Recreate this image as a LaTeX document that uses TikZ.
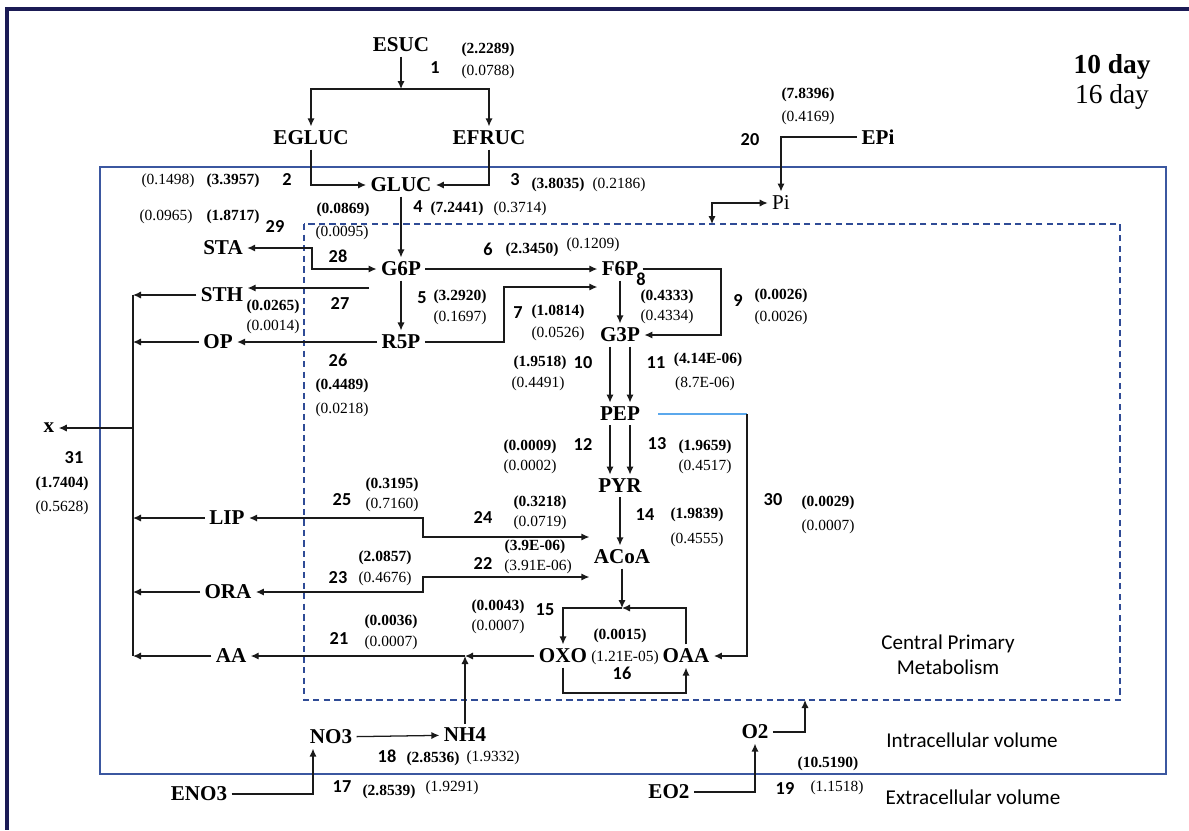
\documentclass[tikz,border=0pt]{standalone}
\usepackage{fontspec}
\setmainfont{Liberation Serif}
\newfontfamily\calfont{Carlito}
\usetikzlibrary{arrows.meta,calc}
\definecolor{navy}{HTML}{1B1B55}
\definecolor{cellblue}{HTML}{3B57A0}
\definecolor{dashblue}{HTML}{2F4B96}
\definecolor{pepblue}{HTML}{5BA8EC}
\definecolor{ink}{HTML}{1A1A1A}
\tikzset{met/.style={font=\fontsize{15}{17}\selectfont\bfseries,inner sep=3pt},
  rnum/.style={font=\calfont\fontsize{13}{15}\selectfont\bfseries,inner sep=0pt},
  vbold/.style={font=\fontsize{11}{13}\selectfont\bfseries,inner sep=0pt},
  vreg/.style={font=\fontsize{11}{13}\selectfont,inner sep=0pt},
  note/.style={font=\calfont\fontsize{15}{18}\selectfont,align=center,inner sep=0pt},
  arrow/.style={-{Latex[length=2mm,width=1.8mm]},line width=0.9pt,draw=ink},
  twoway/.style={{Latex[length=2mm,width=1.8mm]}-{Latex[length=2mm,width=1.8mm]},line width=0.9pt,draw=ink}}

\begin{document}
\begin{tikzpicture}[x=0.025cm,y=-0.025cm]
\useasboundingbox (0,0) rectangle (1189,830);
% frames
\draw[navy,line width=2.2pt] (1189,9) -| (7,830);
\draw[cellblue,line width=1.4pt] (100,167) rectangle (1166,774);
\draw[dashblue,line width=1pt,dash pattern=on 4.5pt off 3pt] (304,224) rectangle (1120,700);
% metabolites
\node[met] (ESUC) at (401,45) {ESUC};
\node[met] (EGLUC) at (311,138) {EGLUC};
\node[met] (EFRUC) at (489,138) {EFRUC};
\node[met] (GLUC) at (401,185) {GLUC};
\node[met] (STA) at (223,248) {STA};
\node[met] (G6P) at (401,269) {G6P};
\node[met] (F6P) at (620,269) {F6P};
\node[met] (STH) at (222,295) {STH};
\node[met] (R5P) at (401,342) {R5P};
\node[met] (G3P) at (620,335) {G3P};
\node[met] (OP) at (218,342) {OP};
\node[met] (PEP) at (620,414) {PEP};
\node[met] (xout) at (49,428) {x};
\node[met] (PYR) at (620,486) {PYR};
\node[met] (LIP) at (227,518) {LIP};
\node[met] (ACoA) at (622,557) {ACoA};
\node[met] (ORA) at (228,592) {ORA};
\node[met] (OXO) at (563,656) {OXO};
\node[met] (OAA) at (686,656) {OAA};
\node[met] (AA) at (231,656) {AA};
\node[met] (NO3) at (331,737) {NO3};
\node[met] (NH4) at (465,735) {NH4};
\node[met] (O2) at (755,732) {O2};
\node[met] (ENO3) at (199,794) {ENO3};
\node[met] (EO2) at (669,792) {EO2};
\node[met] (EPi) at (878,137) {EPi};
\node[met,font=\fontsize{15}{17}\selectfont] (Pi) at (781,203) {Pi};
% junctions
\coordinate (j1) at (401,89);
\coordinate (j28) at (312,269);
\coordinate (a27) at (369,288);
\coordinate (j7) at (504,287);
\coordinate (j9) at (721,335);
\coordinate (jpi) at (712,224);
\coordinate (col) at (133,428);
\coordinate (j24) at (423,537);
\coordinate (j22) at (423,577);
\coordinate (j15) at (622,608);
\coordinate (j16) at (620,693);
\coordinate (j21) at (465,656);
\coordinate (j30) at (747,414);
\coordinate (jo2) at (805,700);
% connectors
\draw[arrow] (ESUC)--(j1); \draw[arrow] (j1)-|(EGLUC); \draw[arrow] (j1)-|(EFRUC);
\draw[arrow] (EGLUC)|-(GLUC); \draw[arrow] (EFRUC)|-(GLUC);
\draw[arrow] (GLUC)--(G6P);
\draw[twoway] (STA)-|(j28)--(G6P);
\draw[arrow] (a27)--(a27-|STH.east);
\draw[arrow] (G6P)--(R5P); \draw[arrow] (G6P)--(F6P);
\draw[arrow] (R5P)-|(j7)--(j7-|F6P.west);
\draw[arrow] (R5P)--(OP);
\draw[arrow] (F6P)--(G3P); \draw[arrow] (F6P)-|(j9)--(G3P);
\draw[arrow] ($(G3P.south)+(-10,0)$)--($(PEP.north)+(-10,0)$);
\draw[arrow] ($(G3P.south)+(10,0)$)--($(PEP.north)+(10,0)$);
\draw[arrow] ($(PEP.south)+(-10,0)$)--($(PYR.north)+(-10,0)$);
\draw[arrow] ($(PEP.south)+(10,0)$)--($(PYR.north)+(10,0)$);
\draw[arrow] (PYR)--(PYR|-ACoA.north);
\draw[arrow] (ACoA)--(j15); \draw[arrow] (OAA.north)|-(j15); \draw[arrow] (j15)-|(OXO);
\draw[arrow] (OXO.south)|-(j16)-|(OAA.south);
\draw[arrow] (OXO)--(j21); \draw[arrow] (j21)--(AA); \draw[arrow] (NH4)--(j21);
\draw[twoway] (LIP)-|(j24)--(j24-|ACoA.west);
\draw[twoway] (ORA)-|(j22)--(j22-|ACoA.west);
\draw[pepblue,line width=0.9pt,shorten <=10pt] (PEP.east)--(j30);
\draw[arrow] (j30)|-(OAA);
\draw[arrow] (EPi)-|(Pi); \draw[twoway] (jpi)|-(Pi);
\draw[arrow] (NO3)--(NH4); \draw[arrow] (ENO3)-|($(NO3.south)+(-18,0)$);
\draw[arrow] (EO2)-|(O2); \draw[arrow] (O2)-|(jo2);
\draw[ink,line width=0.9pt] (STH-|col)--(AA-|col);
\draw[arrow] (STH)--(STH-|col); \draw[arrow] (OP)--(OP-|col);
\draw[arrow] (LIP)--(LIP-|col); \draw[arrow] (ORA)--(ORA-|col);
\draw[arrow] (AA)--(AA-|col); \draw[arrow] (col)--(xout);
% reaction numbers and rates
\node[rnum] (n1) at (435,68) {1};
\node[vbold] (b1) at (488,50) {(2.2289)};
\node[vreg] (r1) at (488,72) {(0.0788)};
\node[rnum] (n2) at (287,180) {2};
\node[vbold] (b2) at (233,181) {(3.3957)};
\node[vreg] (r2) at (168,181) {(0.1498)};
\node[rnum] (n3) at (515,180) {3};
\node[vbold] (b3) at (558,185) {(3.8035)};
\node[vreg] (r3) at (619,185) {(0.2186)};
\node[rnum] (n4) at (418,207) {4};
\node[vbold] (b4) at (457,209) {(7.2441)};
\node[vreg] (r4) at (520,209) {(0.3714)};
\node[vbold] (b28) at (343,210) {(0.0869)};
\node[vreg] (r28) at (342,233) {(0.0095)};
\node[rnum] (n28) at (338,256) {28};
\node[rnum] (n29) at (275,227) {29};
\node[vbold] (b29) at (233,217) {(1.8717)};
\node[vreg] (r29) at (166,217) {(0.0965)};
\node[rnum] (n6) at (488,249) {6};
\node[vbold] (b6) at (532,250) {(2.3450)};
\node[vreg] (r6) at (593,245) {(0.1209)};
\node[rnum] (n8) at (641,279) {8};
\node[vbold] (b8) at (667,297) {(0.4333)};
\node[vreg] (r8) at (667,317) {(0.4334)};
\node[rnum] (n9) at (738,300) {9};
\node[vbold] (b9) at (781,296) {(0.0026)};
\node[vreg] (r9) at (781,318) {(0.0026)};
\node[rnum] (n5) at (422,298) {5};
\node[vbold] (b5) at (460,297) {(3.2920)};
\node[vreg] (r5) at (460,318) {(0.1697)};
\node[rnum] (n7) at (518,313) {7};
\node[vbold] (b7) at (558,312) {(1.0814)};
\node[vreg] (r7) at (558,334) {(0.0526)};
\node[rnum] (n27) at (340,303) {27};
\node[vbold] (b27) at (273,307) {(0.0265)};
\node[vreg] (r27) at (273,327) {(0.0014)};
\node[rnum] (n26) at (338,360) {26};
\node[vbold] (b26) at (342,386) {(0.4489)};
\node[vreg] (r26) at (342,410) {(0.0218)};
\node[rnum] (n31) at (74,458) {31};
\node[vbold] (b31) at (62,484) {(1.7404)};
\node[vreg] (r31) at (62,508) {(0.5628)};
\node[rnum] (n10) at (583,363) {10};
\node[vbold] (b10) at (540,363) {(1.9518)};
\node[vreg] (r10) at (538,384) {(0.4491)};
\node[rnum] (n11) at (656,363) {11};
\node[vbold] (b11) at (708,360) {(4.14E-06)};
\node[vreg] (r11) at (705,384) {(8.7E-06)};
\node[rnum] (n12) at (583,444) {12};
\node[vbold] (b12) at (530,447) {(0.0009)};
\node[vreg] (r12) at (530,467) {(0.0002)};
\node[rnum] (n13) at (657,444) {13};
\node[vbold] (b13) at (705,447) {(1.9659)};
\node[vreg] (r13) at (705,467) {(0.4517)};
\node[rnum] (n14) at (645,515) {14};
\node[vbold] (b14) at (697,515) {(1.9839)};
\node[vreg] (r14) at (697,540) {(0.4555)};
\node[rnum] (n25) at (342,500) {25};
\node[vbold] (b25) at (392,485) {(0.3195)};
\node[vreg] (r25) at (392,505) {(0.7160)};
\node[rnum] (n24) at (483,517) {24};
\node[vbold] (b24) at (540,503) {(0.3218)};
\node[vreg] (r24) at (540,523) {(0.0719)};
\node[rnum] (n23) at (338,578) {23};
\node[vbold] (b23) at (385,558) {(2.0857)};
\node[vreg] (r23) at (385,579) {(0.4676)};
\node[rnum] (n22) at (483,563) {22};
\node[vbold] (b22) at (535,547) {(3.9E-06)};
\node[vreg] (r22) at (538,567) {(3.91E-06)};
\node[rnum] (n21) at (339,638) {21};
\node[vbold] (b21) at (391,622) {(0.0036)};
\node[vreg] (r21) at (391,643) {(0.0007)};
\node[rnum] (n15) at (545,610) {15};
\node[vbold] (b15) at (498,607) {(0.0043)};
\node[vreg] (r15) at (498,627) {(0.0007)};
\node[vbold] (b16) at (620,636) {(0.0015)};
\node[vreg] (r16) at (625,658) {(1.21E-05)};
\node[rnum] (n16) at (622,673) {16};
\node[rnum] (n30) at (773,500) {30};
\node[vbold] (b30) at (828,503) {(0.0029)};
\node[vreg] (r30) at (828,527) {(0.0007)};
\node[rnum] (n18) at (387,756) {18};
\node[vbold] (b18) at (433,759) {(2.8536)};
\node[vreg] (r18) at (493,758) {(1.9332)};
\node[rnum] (n17) at (342,787) {17};
\node[vbold] (b17) at (389,792) {(2.8539)};
\node[vreg] (r17) at (452,788) {(1.9291)};
\node[rnum] (n19) at (785,788) {19};
\node[vbold] (b19) at (828,764) {(10.5190)};
\node[vreg] (r19) at (837,788) {(1.1518)};
\node[rnum] (n20) at (750,140) {20};
\node[vbold] (b20) at (808,95) {(7.8396)};
\node[vreg] (r20) at (808,118) {(0.4169)};
% legend and compartments
\node[font=\fontsize{19.5}{22}\selectfont\bfseries,inner sep=0pt] (day10) at (1112,67) {10 day};
\node[font=\fontsize{19.5}{22}\selectfont,inner sep=0pt] (day16) at (1112,97) {16 day};
\node[note] (cpm) at (948,655) {Central Primary\\Metabolism};
\node[note] (intra) at (972,740) {Intracellular volume};
\node[note] (extra) at (973,797) {Extracellular volume};
\end{tikzpicture}
\end{document}
